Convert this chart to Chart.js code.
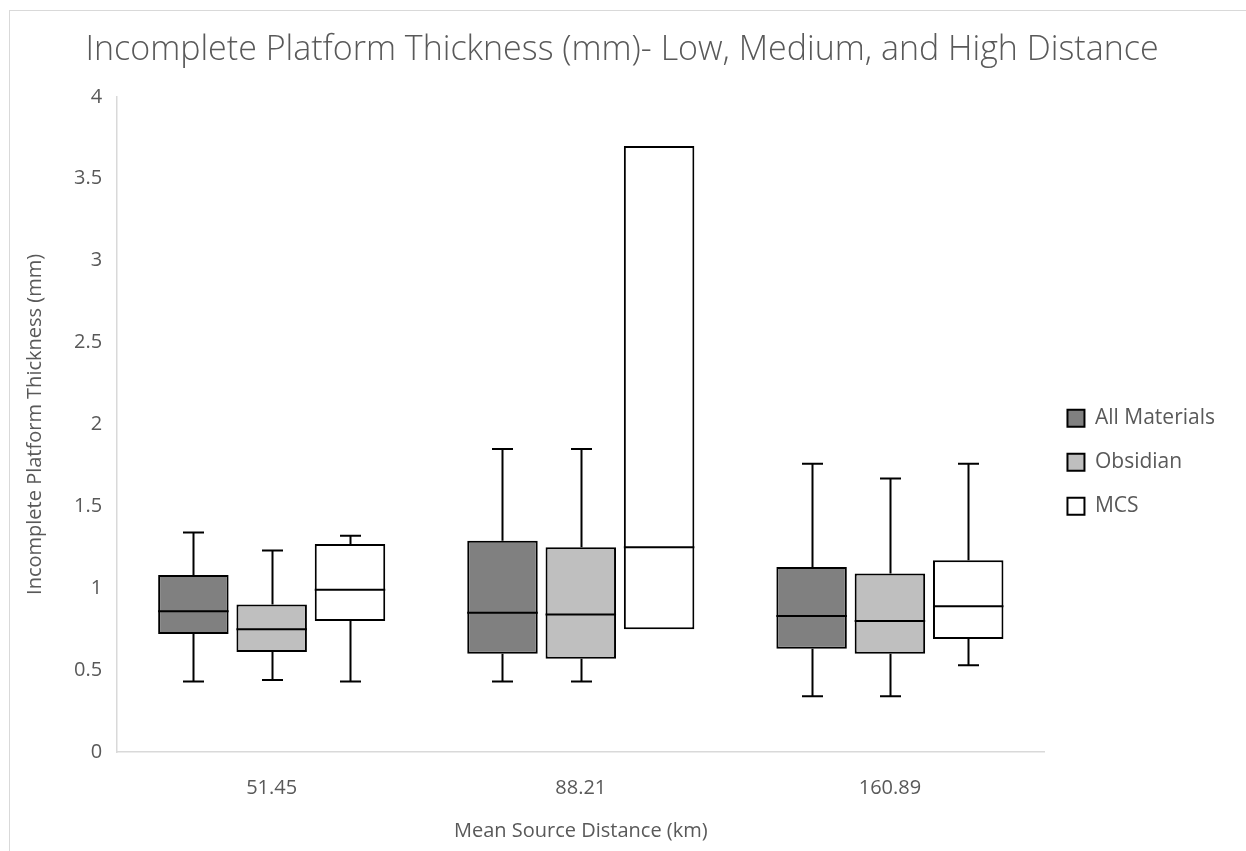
<!DOCTYPE html>
<html>
<head>
<meta charset="utf-8">
<script src="https://cdn.jsdelivr.net/npm/chart.js@4"></script>
<style>
  html, body { margin: 0; padding: 0; background: #fff; }
  #wrap { position: absolute; left: 9px; top: 10px; width: 1245px; height: 850px; border-left: 1px solid #d9d9d9; border-top: 1px solid #d9d9d9; }
  canvas { position: absolute; left: 0; top: 0; }
</style>
</head>
<body>
<div id="wrap"><canvas id="boxChart" width="1237" height="841"></canvas></div>
<script>
// Categorías y estadísticos
const categories = ['51.45', '88.21', '160.89'];
const seriesNames = ['All Materials', 'Obsidian', 'MCS'];

const allMin = [0.43, 0.43, 0.34];
const allQ1  = [0.72, 0.60, 0.63];
const allMed = [0.86, 0.85, 0.83];
const allQ3  = [1.08, 1.29, 1.13];
const allMax = [1.34, 1.85, 1.76];

const obsMin = [0.44, 0.43, 0.34];
const obsQ1  = [0.61, 0.57, 0.60];
const obsMed = [0.75, 0.84, 0.80];
const obsQ3  = [0.90, 1.25, 1.09];
const obsMax = [1.23, 1.85, 1.67];

const mcsMin = [0.43, 0.75, 0.53];
const mcsQ1  = [0.80, 0.75, 0.69];
const mcsMed = [0.99, 1.25, 0.89];
const mcsQ3  = [1.27, 3.70, 1.17];
const mcsMax = [1.32, 3.70, 1.76];

const yTicks = [0, 0.5, 1, 1.5, 2, 2.5, 3, 3.5, 4];

const stats = [
  { min: allMin, q1: allQ1, med: allMed, q3: allQ3, max: allMax },
  { min: obsMin, q1: obsQ1, med: obsMed, q3: obsQ3, max: obsMax },
  { min: mcsMin, q1: mcsQ1, med: mcsMed, q3: mcsQ3, max: mcsMax }
];
const fills = ['#808080', '#bfbfbf', '#ffffff'];
const textColor = '#595959';
const font = 'Open Sans';

// Bigotes y mediana
const boxExtras = {
  id: 'boxExtras',
  beforeDatasetsDraw(chart) {
    const ctx = chart.ctx;
    const y = chart.scales.y;
    ctx.save();
    ctx.strokeStyle = '#000';
    ctx.lineWidth = 2;
    stats.forEach((s, di) => {
      chart.getDatasetMeta(di).data.forEach((bar, i) => {
        const x = Math.round(bar.x) + 0.5;
        const cap = 10.5;
        [[s.max[i], s.q3[i]], [s.min[i], s.q1[i]]].forEach(([end, edge]) => {
          if (end === edge) return;
          const ye = y.getPixelForValue(end);
          ctx.beginPath();
          ctx.moveTo(x, ye);
          ctx.lineTo(x, y.getPixelForValue(edge));
          ctx.moveTo(x - cap, ye);
          ctx.lineTo(x + cap, ye);
          ctx.stroke();
        });
      });
    });
    ctx.restore();
  },
  afterDatasetsDraw(chart) {
    const ctx = chart.ctx;
    const y = chart.scales.y;
    ctx.save();
    ctx.strokeStyle = '#000';
    ctx.lineWidth = 2;
    stats.forEach((s, di) => {
      chart.getDatasetMeta(di).data.forEach((bar, i) => {
        const ym = y.getPixelForValue(s.med[i]);
        ctx.beginPath();
        ctx.moveTo(bar.x - bar.width / 2, ym);
        ctx.lineTo(bar.x + bar.width / 2, ym);
        ctx.stroke();
      });
    });
    ctx.restore();
  }
};

new Chart(document.getElementById('boxChart'), {
  type: 'bar',
  data: {
    labels: categories,
    datasets: stats.map((s, di) => ({
      label: seriesNames[di],
      data: s.q1.map((v, i) => [v, s.q3[i]]),
      backgroundColor: fills[di],
      borderColor: '#000',
      borderWidth: 2,
      borderSkipped: false,
      categoryPercentage: 0.76,
      barPercentage: 0.9
    }))
  },
  options: {
    responsive: false,
    animation: false,
    layout: { padding: { left: 9, right: 22, bottom: 5 } },
    plugins: {
      title: {
        display: true,
        text: 'Incomplete Platform Thickness (mm)- Low, Medium, and High Distance',
        color: textColor,
        font: { family: font, size: 34, weight: '300' },
        padding: { top: 19, bottom: 26 }
      },
      legend: {
        position: 'right',
        title: { display: true, text: ' ', font: { size: 12 }, padding: { top: 0, bottom: 52 } },
        labels: {
          color: textColor,
          font: { family: font, size: 21 },
          boxWidth: 17,
          boxHeight: 17,
          padding: 23
        }
      },
      tooltip: { enabled: false }
    },
    scales: {
      x: {
        grid: { display: false, drawTicks: false },
        border: { color: '#d9d9d9', width: 1.5 },
        ticks: { color: textColor, font: { family: font, size: 20 }, padding: 24 },
        title: {
          display: true, text: 'Mean Source Distance (km)', color: textColor,
          font: { family: font, size: 20 }, padding: { top: -5 }
        }
      },
      y: {
        min: 0, max: 4,
        afterBuildTicks(axis) { axis.ticks = yTicks.map(v => ({ value: v })); },
        grid: { display: false, drawTicks: false },
        border: { color: '#d9d9d9', width: 1.5 },
        ticks: { color: textColor, font: { family: font, size: 20 }, padding: 15, callback: v => String(v) },
        title: {
          display: true, text: 'Incomplete Platform Thickness (mm)', color: textColor,
          font: { family: font, size: 20 }, padding: { bottom: 12 }
        }
      }
    }
  },
  plugins: [boxExtras]
});
</script>
</body>
</html>
